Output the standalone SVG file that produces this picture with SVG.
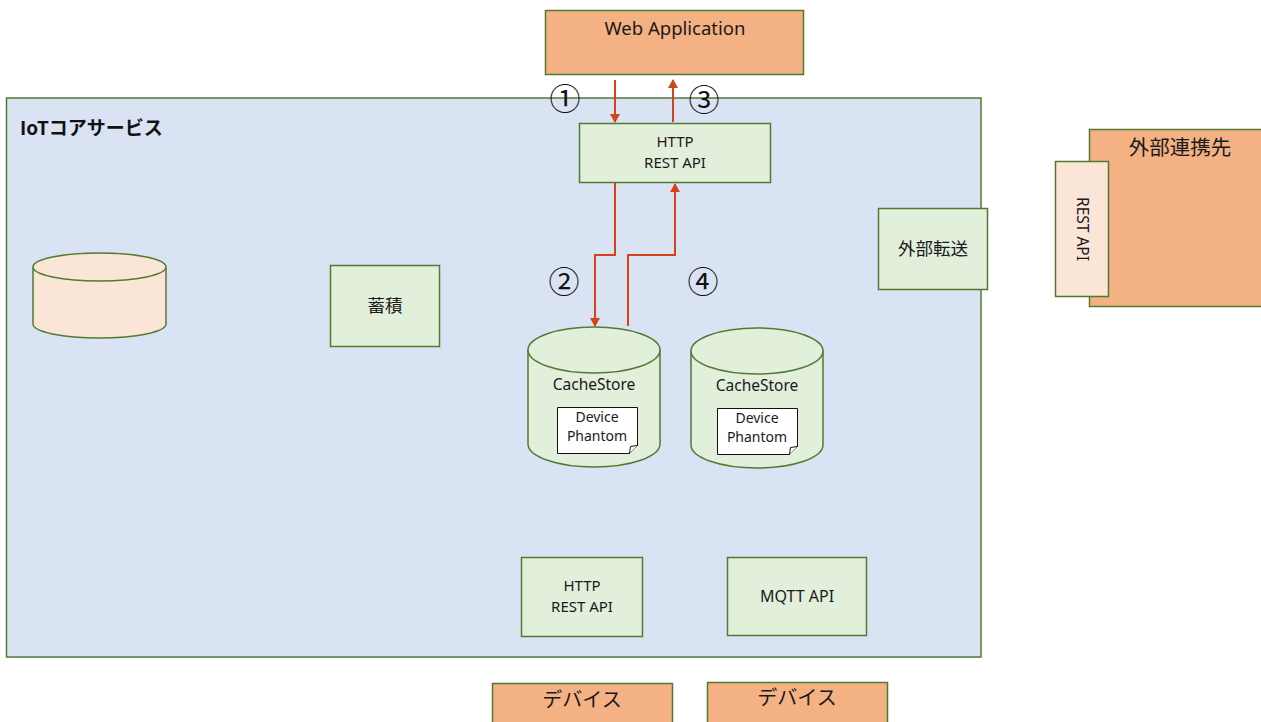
<svg xmlns="http://www.w3.org/2000/svg" width="1261" height="722" viewBox="0 0 1261 722">
  <defs>
    <style>
      .box { stroke: #537a33; stroke-width: 1.5; }
      .green { fill: #e2efda; }
      .orange { fill: #f4b183; }
      .peach { fill: #fbe5d6; }
      .t { font-family: "Noto Sans", "Noto Sans CJK JP", sans-serif; fill: #1a1a1a; text-anchor: middle; }
      .jp { font-family: "Noto Sans CJK JP", "Noto Sans", sans-serif; fill: #1a1a1a; text-anchor: middle; }
      .num { font-family: "Noto Sans CJK JP", sans-serif; font-size: 31px; fill: #111; text-anchor: middle; }
      .flow { fill: none; stroke: #d4441a; stroke-width: 2; marker-end: url(#ah); }
    </style>
    <marker id="ah" markerWidth="10" markerHeight="10" refX="8" refY="5" orient="auto" markerUnits="userSpaceOnUse">
      <path d="M0,0 L9,5 L0,10 z" fill="#d4441a"/>
    </marker>
  </defs>

  <rect width="1261" height="722" fill="#ffffff"/>

  <!-- IoT core service container -->
  <g id="iot-core">
    <rect x="6.5" y="98" width="974.5" height="559" fill="#dae3f3" class="box"/>
    <text x="20" y="135" font-family="Noto Sans CJK JP, Noto Sans, sans-serif" font-size="19" font-weight="bold" fill="#111">IoTコアサービス</text>
  </g>

  <g id="web-app">
    <rect x="545.5" y="10.5" width="258" height="64" class="box orange"/>
    <text x="675" y="35" font-size="18.5" class="t">Web Application</text>
  </g>

  <g id="http-rest-top">
    <rect x="579.5" y="123.5" width="191" height="59" class="box green"/>
    <text x="675" y="147" font-size="15" class="t">HTTP</text>
    <text x="675" y="168" font-size="15" class="t">REST API</text>
  </g>

  <g id="storage-db">
    <path d="M33,267 v57 a66.5,14 0 0 0 133,0 v-57" class="box peach"/>
    <ellipse cx="99.5" cy="267" rx="66.5" ry="14" class="box peach"/>
  </g>

  <g id="accumulate">
    <rect x="330.5" y="265.5" width="109" height="81" class="box green"/>
    <text x="385" y="312" font-size="17.5" class="jp">蓄積</text>
  </g>

  <g id="cachestore-1">
    <path d="M528,350 v94 a66,23 0 0 0 132,0 v-94" class="box green"/>
    <ellipse cx="594" cy="350" rx="66" ry="23" class="box green"/>
    <text x="594" y="390" font-size="15.5" class="t">CacheStore</text>
    <path d="M557.5,407.5 h80 v38 l-8,8 h-72 z" fill="#ffffff" stroke="#111" stroke-width="1"/>
    <path d="M637.5,445.5 l-7,1 l-1,7" fill="#ffffff" stroke="#111" stroke-width="1"/>
    <text x="597" y="422" font-size="14" class="t">Device</text>
    <text x="597" y="441" font-size="14" class="t">Phantom</text>
  </g>

  <g id="cachestore-2">
    <path d="M691,351 v94 a66,23 0 0 0 132,0 v-94" class="box green"/>
    <ellipse cx="757" cy="351" rx="66" ry="23" class="box green"/>
    <text x="757" y="391" font-size="15.5" class="t">CacheStore</text>
    <path d="M717.5,408.5 h80 v38 l-8,8 h-72 z" fill="#ffffff" stroke="#111" stroke-width="1"/>
    <path d="M797.5,446.5 l-7,1 l-1,7" fill="#ffffff" stroke="#111" stroke-width="1"/>
    <text x="757" y="423" font-size="14" class="t">Device</text>
    <text x="757" y="442" font-size="14" class="t">Phantom</text>
  </g>

  <g id="external-forward">
    <rect x="878.5" y="208.5" width="109" height="81" class="box green"/>
    <text x="933" y="255" font-size="17.5" class="jp">外部転送</text>
  </g>

  <g id="external-partner">
    <rect x="1089.5" y="129.5" width="180" height="177" class="box orange"/>
    <text x="1180" y="155" font-size="20.5" class="jp">外部連携先</text>
  </g>

  <g id="partner-rest-api">
    <rect x="1055.5" y="161.5" width="53" height="135" class="box peach"/>
    <text x="0" y="0" font-size="15.5" class="t" transform="translate(1077,229) rotate(90)">REST API</text>
  </g>

  <g id="http-rest-bottom">
    <rect x="521.5" y="557.5" width="121" height="79" class="box green"/>
    <text x="582" y="591" font-size="15" class="t">HTTP</text>
    <text x="582" y="612" font-size="15" class="t">REST API</text>
  </g>

  <g id="mqtt-api">
    <rect x="727.5" y="557.5" width="139" height="78" class="box green"/>
    <text x="797" y="602" font-size="16" class="t">MQTT API</text>
  </g>

  <g id="device-1">
    <rect x="492.5" y="683.5" width="180" height="50" class="box orange"/>
    <text x="582" y="707" font-size="20" class="jp">デバイス</text>
  </g>

  <g id="device-2">
    <rect x="707.5" y="682.5" width="180" height="50" class="box orange"/>
    <text x="797" y="705" font-size="20" class="jp">デバイス</text>
  </g>

  <!-- request / response flow -->
  <g id="connectors">
    <path d="M615,80 V122" class="flow"/>
    <path d="M673,122 V80" class="flow"/>
    <path d="M615,183 V255 H595 V326" class="flow"/>
    <path d="M628,326 V255 H675 V184" class="flow"/>
    <text x="565" y="110" class="num">①</text>
    <text x="704" y="111" class="num">③</text>
    <text x="564" y="293" class="num">②</text>
    <text x="703" y="293" class="num">④</text>
  </g>
</svg>
